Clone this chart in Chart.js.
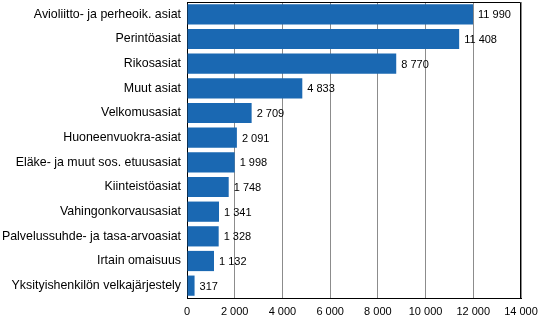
<!DOCTYPE html>
<html>
<head>
<meta charset="utf-8">
<script src="https://cdn.jsdelivr.net/npm/chart.js@4/dist/chart.umd.min.js"></script>
<style>
  html, body { margin: 0; padding: 0; background: #fff; }
  #wrap { width: 541px; height: 328px; }
</style>
</head>
<body>
<div id="wrap"><canvas id="myChart" width="541" height="328"></canvas></div>
<script>
const categories = [
    'Avioliitto- ja perheoik. asiat',
    'Perintöasiat',
    'Rikosasiat',
    'Muut asiat',
    'Velkomusasiat',
    'Huoneenvuokra-asiat',
    'Eläke- ja muut sos. etuusasiat',
    'Kiinteistöasiat',
    'Vahingonkorvausasiat',
    'Palvelussuhde- ja tasa-arvoasiat',
    'Irtain omaisuus',
    'Yksityishenkilön velkajärjestely'
];
const caseCounts = [11990, 11408, 8770, 4833, 2709, 2091, 1998, 1748, 1341, 1328, 1132, 317];
const xTicks = [0, 2000, 4000, 6000, 8000, 10000, 12000, 14000];

const fmt = (v) => String(v).replace(/\B(?=(\d{3})+(?!\d))/g, ' ');
const fam = '"Liberation Sans", Arial, sans-serif';

// value labels next to the bars + box round the plot
const extras = {
    id: 'extras',
    afterDatasetsDraw(chart) {
        const ctx = chart.ctx;
        const meta = chart.getDatasetMeta(0);
        ctx.save();
        ctx.font = '11px ' + fam;
        ctx.fillStyle = '#000';
        ctx.textBaseline = 'middle';
        meta.data.forEach((bar, i) => {
            ctx.fillText(fmt(caseCounts[i]), bar.x + 5, bar.y + 1);
        });
        const a = chart.chartArea;
        ctx.strokeStyle = '#000';
        ctx.lineWidth = 1;
        ctx.beginPath();
        ctx.moveTo(a.left, a.top + 0.5);
        ctx.lineTo(a.right - 0.5, a.top + 0.5);
        ctx.lineTo(a.right - 0.5, a.bottom);
        ctx.stroke();
        ctx.restore();
    }
};

const ctx = document.getElementById('myChart').getContext('2d');
new Chart(ctx, {
    type: 'bar',
    data: {
        labels: categories,
        datasets: [{
            data: caseCounts,
            backgroundColor: 'rgb(26, 104, 178)',
            barPercentage: 0.82,
            categoryPercentage: 1
        }]
    },
    options: {
        indexAxis: 'y',
        responsive: false,
        animation: false,
        layout: { padding: { top: 2, right: 20, left: 0, bottom: 0 } },
        plugins: { legend: { display: false }, tooltip: { enabled: false } },
        scales: {
            x: {
                min: 0,
                max: 14000,
                afterBuildTicks: (axis) => { axis.ticks = xTicks.map(v => ({ value: v })); },
                afterFit: (axis) => { axis.height = 30; axis.paddingLeft = 0; axis.paddingRight = 0; },
                grid: { color: '#8c8c8c', drawTicks: false, lineWidth: 1 },
                border: { color: '#000', width: 1 },
                ticks: { color: '#000', font: { family: fam, size: 11 }, padding: 7, maxRotation: 0, callback: (v) => fmt(v) }
            },
            y: {
                afterFit: (axis) => { axis.width = 187; axis.paddingTop = 0; axis.paddingBottom = 0; },
                grid: { display: false, drawTicks: false },
                border: { color: '#000', width: 1 },
                ticks: { color: '#000', font: { family: fam, size: 12.4 }, padding: 6 }
            }
        }
    },
    plugins: [extras]
});
</script>
</body>
</html>
